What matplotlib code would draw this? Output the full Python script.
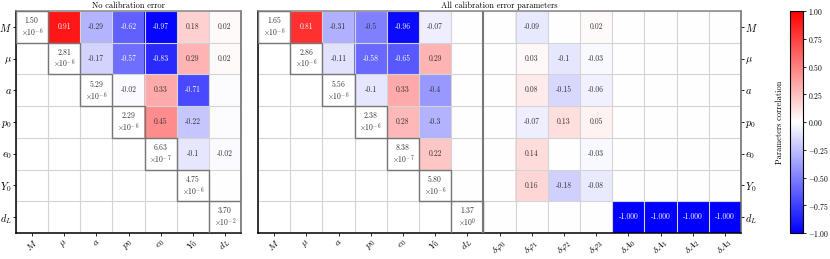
import numpy as np
import matplotlib
matplotlib.use("Agg")
import matplotlib.pyplot as plt
from matplotlib.patches import Rectangle

plt.rcParams['font.family'] = 'serif'
plt.rcParams['font.serif'] = ['cmr10', 'DejaVu Serif']
plt.rcParams['mathtext.fontset'] = 'cm'
plt.rcParams['axes.formatter.use_mathtext'] = True

# parameter names
row_names = [r"$M$", r"$\mu$", r"$a$", r"$p_0$", r"$e_0$", r"$Y_0$", r"$d_L$"]
calib_names = [r"$\delta\varphi_0$", r"$\delta\varphi_1$", r"$\delta\varphi_2$", r"$\delta\varphi_3$",
               r"$\delta A_0$", r"$\delta A_1$", r"$\delta A_2$", r"$\delta A_3$"]

# diagonal: standard deviations (mantissa, exponent)
diag_left = [(1.50, -6), (2.81, -6), (5.29, -6), (2.29, -6), (6.63, -7), (4.75, -6), (3.70, -2)]
diag_right = [(1.65, -6), (2.86, -6), (5.56, -6), (2.38, -6), (8.38, -7), (5.80, -6), (1.37, 0)]

# upper triangle correlations, no calibration error (None = not drawn)
N = None
corr_left = [
    [N, 0.91, -0.29, -0.62, -0.97, 0.18, 0.02],
    [N, N, -0.17, -0.57, -0.83, 0.29, 0.02],
    [N, N, N, -0.02, 0.33, -0.71, -0.01],
    [N, N, N, N, 0.45, -0.22, -0.01],
    [N, N, N, N, N, -0.1, -0.02],
    [N, N, N, N, N, N, 0.0],
    [N, N, N, N, N, N, N],
]

# all calibration error parameters (7 rows x 15 columns)
corr_right = [
    [N, 0.81, -0.31, -0.5, -0.96, -0.07, 0.0, 0.0, -0.09, 0.0, 0.02, 0.0, 0.0, 0.0, 0.0],
    [N, N, -0.11, -0.58, -0.65, 0.29, 0.0, 0.0, 0.03, -0.1, -0.03, 0.0, 0.0, 0.0, 0.0],
    [N, N, N, -0.1, 0.33, -0.4, 0.0, 0.0, 0.08, -0.15, -0.06, 0.0, 0.0, 0.0, 0.0],
    [N, N, N, N, 0.28, -0.3, 0.0, 0.0, -0.07, 0.13, 0.05, 0.0, 0.0, 0.0, 0.0],
    [N, N, N, N, N, 0.22, 0.0, 0.0, 0.14, 0.0, -0.03, 0.0, 0.0, 0.0, 0.0],
    [N, N, N, N, N, N, 0.0, 0.0, 0.16, -0.18, -0.08, 0.0, 0.0, 0.0, 0.0],
    [N, N, N, N, N, N, N, 0.0, 0.0, 0.0, 0.0, -1.0, -1.0, -1.0, -1.0],
]

cb_ticks = [1.0, 0.75, 0.5, 0.25, 0.0, -0.25, -0.5, -0.75, -1.0]


def fmt(v):
    if abs(v) >= 0.995:
        return f"{v:.3f}"
    return f"{round(v, 2):g}"


def draw_panel(ax, corr, diag, xnames, title, right_ticks=False):
    m = np.array([[np.nan if v is None else v for v in row] for row in corr], dtype=float)
    nr, nc = m.shape
    im = ax.imshow(np.ma.masked_invalid(m), cmap='bwr', vmin=-1, vmax=1, aspect='auto',
                   interpolation='nearest')
    ax.set_facecolor('white')
    for i in range(nr):
        for j in range(nc):
            v = m[i, j]
            if np.isnan(v) or abs(v) < 0.015:
                continue
            col = 'white' if abs(v) > 0.52 else '#333333'
            ax.text(j, i, fmt(v), ha='center', va='center', fontsize=5.5, color=col)
    for i, (mant, ex) in enumerate(diag):
        ax.text(i, i, f"${mant:.2f}$\n" + r"$\times10^{%d}$" % ex, ha='center', va='center',
                fontsize=5.5, color='#333333', linespacing=1.1)
        ax.add_patch(Rectangle((i - 0.5, i - 0.5), 1, 1, fill=False, edgecolor='#777777',
                               lw=1.0, zorder=4))
    ax.set_xticks(np.arange(nc))
    ax.set_xticklabels(xnames, rotation=45, fontsize=7)
    ax.set_yticks(np.arange(nr))
    ax.set_yticklabels(row_names, fontsize=7.5)
    ax.set_xticks(np.arange(nc + 1) - 0.5, minor=True)
    ax.set_yticks(np.arange(nr + 1) - 0.5, minor=True)
    ax.grid(which='minor', color='#d4d4d4', lw=0.8)
    ax.tick_params(which='minor', length=0)
    ax.tick_params(which='major', length=2, width=0.6, pad=1)
    ax.set_xlim(-0.5, nc - 0.5)
    ax.set_ylim(nr - 0.5, -0.5)
    if right_ticks:
        ax.yaxis.tick_right()
    ax.spines['left'].set_color('black')
    ax.spines['bottom'].set_color('black')
    ax.spines['top'].set_color('#888888')
    ax.spines['right'].set_color('#666666')
    for s in ax.spines.values():
        s.set_linewidth(1.1)
    ax.set_title(title, fontsize=6, pad=2)
    return im


fig = plt.figure(figsize=(8.3, 2.59), dpi=100)
ax1 = fig.add_axes([16 / 830, 26 / 259, 225 / 830, 222 / 259])
ax2 = fig.add_axes([258 / 830, 26 / 259, 483 / 830, 222 / 259])
cax = fig.add_axes([790 / 830, 26 / 259, 13 / 830, 222 / 259])

draw_panel(ax1, corr_left, diag_left, row_names, "No calibration error")
im = draw_panel(ax2, corr_right, diag_right, row_names + calib_names,
                "All calibration error parameters", right_ticks=True)
ax2.axvline(6.5, color='#777777', lw=1.5, zorder=5)

cb = fig.colorbar(im, cax=cax)
cb.set_ticks(cb_ticks)
cb.set_ticklabels([f"${t:.2f}$" for t in cb_ticks])
cb.ax.tick_params(labelsize=5.5, length=2, width=0.6, pad=1.5)
cb.outline.set_linewidth(0.8)
cb.ax.yaxis.set_label_position('left')
cb.set_label("Parameters correlation", fontsize=6, labelpad=4)

fig.savefig("out.png", dpi=100)
